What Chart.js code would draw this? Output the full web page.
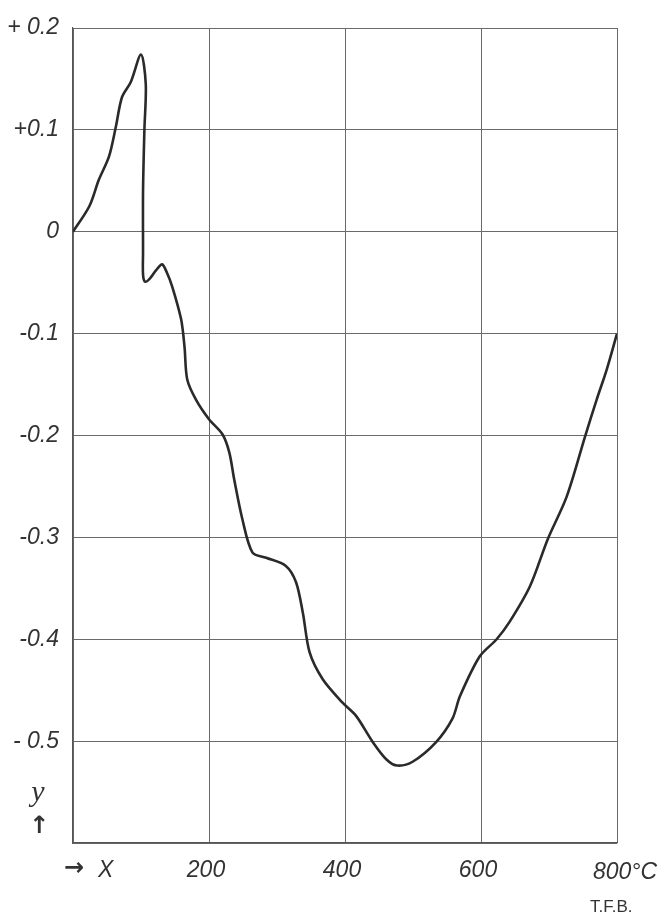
<!DOCTYPE html>
<html>
<head>
<meta charset="utf-8">
<script src="https://cdn.jsdelivr.net/npm/chart.js@4/dist/chart.umd.min.js"></script>
<style>
  body { margin: 0; background: #fff; }
  canvas { display: block; }
</style>
</head>
<body>
<canvas id="curve" width="660" height="917"></canvas>
<script>
// temperature in °C
const temps = [0, 24, 38, 53, 63, 72, 85, 100, 107, 105, 103, 103, 103, 106, 113, 122, 131, 138, 146, 159, 164, 168, 181, 200, 220, 230, 237, 249, 264, 284, 313, 328, 338, 348, 367, 396, 416, 441, 461, 477, 500, 534, 558, 569, 598, 623, 642, 672, 698, 726, 753, 770, 785, 800];
const yValues = [0, 0.025, 0.051, 0.074, 0.103, 0.132, 0.147, 0.174, 0.145, 0.10, 0.04, -0.02, -0.042, -0.049, -0.046, -0.038, -0.032, -0.04, -0.054, -0.086, -0.113, -0.145, -0.165, -0.184, -0.199, -0.217, -0.243, -0.282, -0.315, -0.320, -0.328, -0.344, -0.374, -0.413, -0.439, -0.462, -0.475, -0.501, -0.518, -0.524, -0.520, -0.501, -0.478, -0.456, -0.417, -0.400, -0.383, -0.348, -0.302, -0.260, -0.201, -0.165, -0.135, -0.100];

const yTickValues = [0.2, 0.1, 0, -0.1, -0.2, -0.3, -0.4, -0.5, -0.6];
const yTickLabels = ['+ 0.2', '+0.1', '0', '-0.1', '-0.2', '-0.3', '-0.4', '- 0.5', ''];
const xTickValues = [0, 200, 400, 600, 800];
const xTickLabels = ['X', '200', '400', '600', '800\u00b0C'];

const points = temps.map((t, i) => ({ x: t, y: yValues[i] }));
const labelFont = 'italic 23px "Liberation Sans", Arial, sans-serif';

// x labels, the axis arrows and the signature
const extraText = {
  id: 'extraText',
  afterDraw(chart) {
    const ctx = chart.ctx;
    const xs = chart.scales.x;
    const ys = chart.scales.y;
    ctx.save();
    ctx.fillStyle = '#333';
    ctx.textBaseline = 'middle';
    ctx.font = labelFont;
    xTickValues.forEach((v, i) => {
      const px = xs.getPixelForValue(v);
      if (i === 0) {
        ctx.textAlign = 'left';
        ctx.fillText(xTickLabels[i], px + 25, 871);
        ctx.font = 'bold 24px "DejaVu Sans", sans-serif';
        ctx.fillText('\u2192', px - 9, 869);
        ctx.font = labelFont;
      } else if (i === xTickValues.length - 1) {
        ctx.textAlign = 'left';
        ctx.fillText(xTickLabels[i], px - 24, 873);
      } else {
        ctx.textAlign = 'center';
        ctx.fillText(xTickLabels[i], px - 3, 871);
      }
    });
    const yMark = ys.getPixelForValue(-0.555);
    ctx.textAlign = 'center';
    ctx.font = 'italic 30px "Liberation Serif", serif';
    ctx.fillText('y', 38, yMark - 4);
    ctx.font = 'bold 24px "DejaVu Sans", sans-serif';
    ctx.fillText('\u2191', 39, yMark + 30);
    ctx.font = '17px "Liberation Sans Narrow", "Liberation Sans", sans-serif';
    ctx.textAlign = 'left';
    ctx.fillText('T.F.B.', 590, 907);
    ctx.restore();
  }
};

new Chart(document.getElementById('curve'), {
  type: 'scatter',
  data: {
    datasets: [{
      data: points,
      showLine: true,
      borderColor: '#2a2a2a',
      borderWidth: 2.6,
      pointRadius: 0,
      tension: 0.3,
      fill: false
    }]
  },
  options: {
    responsive: false,
    animation: false,
    layout: { padding: { top: 28, right: 43, left: 0, bottom: 0 } },
    plugins: {
      legend: { display: false },
      tooltip: { enabled: false }
    },
    scales: {
      x: {
        type: 'linear',
        min: 0,
        max: 800,
        afterBuildTicks(scale) {
          scale.ticks = xTickValues.map(v => ({ value: v }));
        },
        afterFit(scale) { scale.height = 74; },
        ticks: { display: false },
        grid: { color: '#6a6a6a', lineWidth: 1, drawTicks: false },
        border: { color: '#555', width: 1.2 }
      },
      y: {
        min: -0.6,
        max: 0.2,
        afterBuildTicks(scale) {
          scale.ticks = yTickValues.map(v => ({ value: v }));
        },
        afterFit(scale) { scale.width = 73; },
        ticks: {
          padding: 14,
          color: '#333',
          font: { family: '"Liberation Sans", Arial, sans-serif', size: 23, style: 'italic' },
          callback(value) {
            const i = yTickValues.findIndex(v => Math.abs(v - value) < 1e-6);
            return i >= 0 ? yTickLabels[i] : '';
          }
        },
        grid: { color: '#6a6a6a', lineWidth: 1, drawTicks: false },
        border: { color: '#555', width: 1.2 }
      }
    }
  },
  plugins: [extraText]
});
</script>
</body>
</html>
